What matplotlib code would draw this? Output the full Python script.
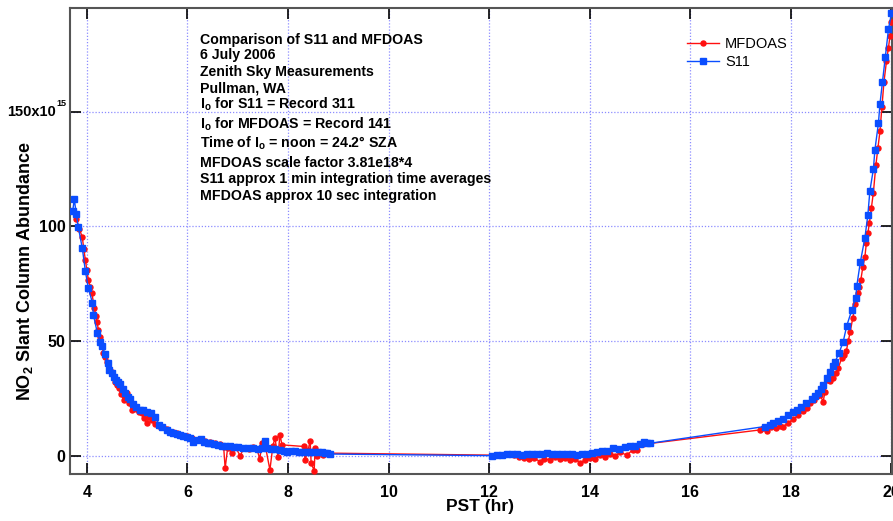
import matplotlib
matplotlib.use("Agg")
import matplotlib.pyplot as plt
from matplotlib.transforms import blended_transform_factory, offset_copy

plt.rcParams['font.family'] = ['Liberation Sans', 'DejaVu Sans']
plt.rcParams['mathtext.fontset'] = 'custom'
plt.rcParams['mathtext.rm'] = 'Liberation Sans'
plt.rcParams['mathtext.bf'] = 'Liberation Sans:bold'
plt.rcParams['mathtext.it'] = 'Liberation Sans:italic'

# ---------------- data (PST hr, NO2 SCD in 1e15) ----------------
s11_t = [3.72, 3.75, 3.79, 3.83, 3.91, 3.97, 4.03, 4.11, 4.13, 4.21, 4.27, 4.30, 4.36, 4.42,
         4.45, 4.50, 4.53, 4.58, 4.62, 4.66, 4.71, 4.76, 4.81, 4.86, 4.92, 4.97, 5.06, 5.12,
         5.19, 5.28, 5.36, 5.44, 5.50, 5.59, 5.66, 5.72, 5.79, 5.86, 5.92, 5.99, 6.05, 6.12,
         6.20, 6.26, 6.33, 6.40, 6.45, 6.52, 6.60, 6.68, 6.75, 6.85, 6.92, 7.00, 7.11, 7.20,
         7.31, 7.40, 7.48, 7.55, 7.58, 7.66, 7.75, 7.84, 7.92, 7.98, 8.06, 8.14, 8.22, 8.30,
         8.38, 8.44, 8.52, 8.60, 8.68, 8.74, 8.78, 8.84,
         12.05, 12.15, 12.25, 12.35, 12.45, 12.55, 12.65, 12.75, 12.85, 12.95, 13.05, 13.15,
         13.25, 13.35, 13.45, 13.55, 13.65, 13.75, 13.85, 13.95, 14.05, 14.14, 14.25, 14.35,
         14.47, 14.58, 14.70, 14.80, 14.90, 15.00, 15.07, 15.14, 15.20,
         17.48, 17.58, 17.65, 17.75, 17.85, 17.95, 18.05, 18.13, 18.21, 18.30, 18.41, 18.48,
         18.54, 18.60, 18.64, 18.71, 18.78, 18.83, 18.88, 18.96, 19.04, 19.11, 19.21, 19.29,
         19.31, 19.38, 19.47, 19.53, 19.57, 19.64, 19.67, 19.74, 19.77, 19.82, 19.88, 19.94,
         20.00]
s11_v = [106.9, 111.9, 105.5, 99.7, 90.5, 80.6, 73.1, 66.8, 61.5, 53.5, 49.5, 48.1, 44.3, 40.4,
         37.5, 36.0, 34.6, 33.0, 32.0, 31.3, 29.0, 27.6, 25.5, 24.7, 22.5, 21.5, 20.1, 19.8,
         19.3, 18.5, 17.1, 13.5, 12.6, 11.3, 10.5, 10.1, 9.6, 9.0, 8.7, 8.4, 7.6, 6.2,
         6.8, 7.4, 6.0, 5.7, 5.5, 5.0, 4.8, 4.5, 4.3, 4.1, 3.9, 3.7, 3.5, 3.6,
         3.4, 3.2, 3.4, 6.7, 3.5, 3.0, 2.8, 2.5, 2.2, 1.8, 2.1, 2.0, 1.9, 1.8,
         1.7, 1.8, 1.5, 1.9, 1.6, 1.3, 1.3, 0.8,
         0.1, 0.3, 0.5, 0.7, 0.9, 0.8, 0.6, 1.0, 0.9, 0.8, 0.9, 1.1,
         0.9, 0.8, 1.0, 0.9, 0.7, 0.6, 0.9, 0.8, 1.4, 1.9, 2.0, 2.3,
         3.3, 3.0, 3.8, 4.4, 4.3, 5.0, 6.2, 5.8, 5.5,
         12.8, 13.4, 14.2, 15.3, 16.2, 17.9, 19.0, 20.2, 21.5, 23.0, 24.7, 26.0,
         27.3, 29.0, 31.0, 33.8, 36.7, 39.0, 41.1, 45.0, 49.8, 56.7, 63.6, 69.0,
         74.1, 84.4, 94.9, 105.0, 115.5, 125.0, 133.4, 145.0, 153.3, 162.9, 174.0, 186.0,
         193.0]

mf_t = [3.79, 3.85, 3.91, 3.94, 3.97, 4.00, 4.03, 4.07, 4.10, 4.15, 4.18, 4.20, 4.23, 4.26,
        4.30, 4.33, 4.37, 4.40, 4.45, 4.50, 4.53, 4.56, 4.60, 4.63, 4.68, 4.73, 4.76, 4.80,
        4.84, 4.89, 4.93, 4.98, 5.03, 5.09, 5.14, 5.19, 5.24, 5.30, 5.36, 5.44, 5.52, 5.60,
        5.72, 5.80, 5.90, 6.00, 6.10, 6.25, 6.35, 6.45, 6.55, 6.65, 6.72, 6.75, 6.80, 6.88,
        6.95, 7.05, 7.12, 7.22, 7.30, 7.38, 7.44, 7.48, 7.55, 7.64, 7.70, 7.74, 7.80, 7.84,
        7.88, 8.31, 8.34, 8.40, 8.44, 8.46, 8.52, 8.54, 8.57, 8.62, 8.70, 8.80,
        12.50, 12.60, 12.70, 12.80, 12.90, 13.01, 13.10, 13.20, 13.30, 13.40, 13.50, 13.60,
        13.70, 13.81, 13.90, 14.00, 14.10, 14.20, 14.30, 14.40, 14.50, 14.60, 14.74, 14.85,
        14.93, 15.05,
        17.38, 17.45, 17.52, 17.60, 17.70, 17.78, 17.85, 17.95, 18.05, 18.15, 18.25, 18.32,
        18.38, 18.45, 18.52, 18.58, 18.64, 18.68, 18.71, 18.78, 18.84, 18.90, 18.94, 19.01,
        19.06, 19.10, 19.14, 19.18, 19.23, 19.28, 19.33, 19.36, 19.39, 19.43, 19.47, 19.50,
        19.53, 19.56, 19.60, 19.64, 19.69, 19.73, 19.77, 19.81, 19.85, 19.90, 19.94, 19.97,
        20.00]
mf_v = [103.2, 99.0, 95.3, 90.0, 85.4, 81.0, 76.7, 73.5, 70.9, 64.4, 61.0, 58.5, 55.0, 52.0,
        48.0, 44.8, 43.0, 41.1, 38.5, 36.7, 34.0, 32.4, 31.0, 29.5, 27.0, 24.4, 26.0, 27.3,
        23.0, 20.1, 21.5, 20.5, 19.2, 18.6, 16.5, 14.2, 16.8, 15.5, 14.0, 13.2, 12.8, 11.5,
        10.6, 9.8, 9.0, 8.6, 7.8, 7.0, 6.5, 6.0, 5.4, 5.0, 4.0, -5.4, 3.5, 1.4,
        4.0, 0.0, 3.5, 3.0, 3.8, 3.0, -1.3, 5.5, 4.2, -6.1, 4.5, 7.7, -0.3, 9.2,
        4.8, 4.1, -1.7, 2.5, 6.7, -3.2, -6.4, 3.4, 0.0, 1.5, 0.4, 1.2,
        0.2, -0.5, -0.8, -1.5, -1.0, -2.5, -1.2, -1.8, -0.5, -1.5, -1.0, -1.8,
        -1.2, -2.9, -2.0, -0.8, -1.2, 0.2, -0.5, 0.8, 0.0, 1.5, 0.4, 2.5,
        2.6, 5.0,
        11.3, 12.0, 10.8, 12.5, 12.0, 13.0, 12.8, 14.5, 16.0, 17.9, 19.5, 21.0,
        23.0, 24.5, 26.0, 26.5, 23.7, 28.0, 33.1, 32.5, 33.9, 36.0, 38.2, 42.6,
        44.0, 45.5, 50.0, 54.2, 60.0, 66.0, 71.0, 73.5, 76.7, 82.3, 86.6, 92.7,
        97.0, 101.4, 108.0, 114.8, 126.9, 134.0, 141.4, 152.0, 163.0, 172.0, 178.0, 183.0,
        189.0]

x_ticks = [4, 6, 8, 10, 12, 14, 16, 18, 20]
y_ticks = [0, 50, 100, 150]
y_ticklabels = ['0', '50', '100', '']
top_label_main = '150x10'
top_label_exp = '15'

notes = [
    "Comparison of S11 and MFDOAS",
    "6 July 2006",
    "Zenith Sky Measurements",
    "Pullman, WA",
    r"I$_\mathbf{o}$ for S11 = Record 311",
    r"I$_\mathbf{o}$ for MFDOAS = Record 141",
    r"Time of I$_\mathbf{o}$ = noon = 24.2° SZA",
    "MFDOAS scale factor 3.81e18*4",
    "S11 approx 1 min integration time averages",
    "MFDOAS approx 10 sec integration",
]
note_baselines_px = [44, 59.5, 76, 92.5, 108.5, 129, 147.5, 167.5, 183.5, 200]

# ---------------- figure ----------------
W, H = 893, 521
fig = plt.figure(figsize=(W / 100, H / 100), dpi=100)
ax = fig.add_axes([69.5 / W, 1 - 474 / H, (892 - 69.5) / W, (474 - 8.3) / H])

red = '#ff1010'
blue = '#0a4dff'
ax.plot(mf_t, mf_v, color=red, lw=1.0, marker='o', ms=3.6, mec=red, mfc=red,
        label='MFDOAS', zorder=3)
ax.plot(s11_t, s11_v, color=blue, lw=1.0, marker='s', ms=4.8, mec=blue, mfc=blue,
        label='S11', zorder=4)

ax.set_xlim(3.655, 20.01)
ax.set_ylim(-7.9, 195.1)
ax.set_xticks(x_ticks)
ax.set_xticklabels([str(t) for t in x_ticks], fontweight='bold', fontsize=11.5)
ax.set_yticks(y_ticks)
ax.set_yticklabels(y_ticklabels, fontweight='bold', fontsize=11.5)

# top y tick label with superscript exponent
trans = blended_transform_factory(fig.transFigure, ax.transData)
ax.text(56 / W, y_ticks[-1], top_label_main, transform=trans, ha='right', va='center',
        fontsize=10.5, fontweight='bold')
ax.text(56 / W, y_ticks[-1], top_label_exp,
        transform=offset_copy(trans, fig=fig, x=0.5, y=2.5, units='points'),
        ha='left', va='bottom', fontsize=6.5, fontweight='bold')

ax.tick_params(direction='in', length=8, width=1.2, color='black',
               top=True, right=True)
ax.tick_params(axis='x', pad=8)
ax.tick_params(axis='y', pad=3)
ax.grid(True, color='#8c8cff', linestyle=(0, (1, 1.5)), linewidth=0.9, zorder=0)
for s in ax.spines.values():
    s.set_color('#555555')
    s.set_linewidth(1.5)

ax.set_xlabel('PST (hr)', fontweight='bold', fontsize=12.5)
ax.xaxis.set_label_coords((480 - 69.5) / (892 - 69.5), -(507 - 474) / (474 - 8.3),
                          transform=ax.transAxes)
ax.set_ylabel(r'NO$_\mathbf{2}$ Slant Column Abundance', fontweight='bold', fontsize=13)
ax.yaxis.set_label_coords(-(69.5 - 25) / (892 - 69.5), (474 - 271) / (474 - 8.3),
                          transform=ax.transAxes)
ax.yaxis.label.set_va('center')
ax.xaxis.label.set_va('center')

for txt, yb in zip(notes, note_baselines_px):
    fig.text(200.5 / W, 1 - yb / H, txt, fontsize=10.2, fontweight='bold',
             va='baseline', ha='left')

leg = ax.legend(loc='upper left', bbox_to_anchor=(687 / W, 1 - 37 / H),
                bbox_transform=fig.transFigure, frameon=False, fontsize=10.5,
                handlelength=2.2, handletextpad=0.4, labelspacing=0.3,
                borderpad=0, borderaxespad=0)

fig.savefig('out.png', dpi=100)
